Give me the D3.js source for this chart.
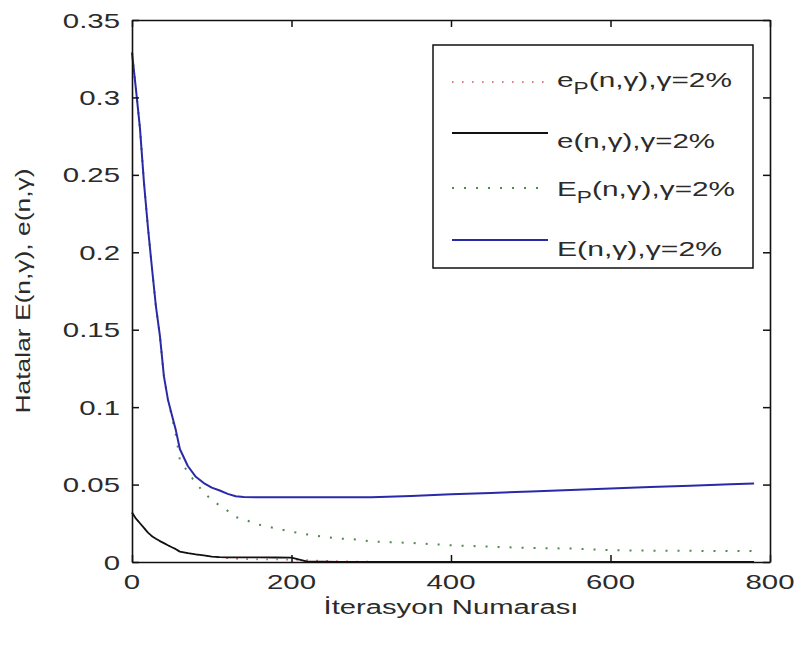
<!DOCTYPE html>
<html>
<head>
<meta charset="utf-8">
<script src="https://cdn.jsdelivr.net/npm/d3@7"></script>
<style>
  html, body { margin: 0; padding: 0; background: #fff; }
  svg { display: block; }
  text { font-family: "Liberation Sans", Arial, sans-serif; fill: #2b2b2b; }
</style>
</head>
<body>
<svg id="chart" width="798" height="651"></svg>
<script>
// Iteration numbers at which the errors were sampled
const iterations = [0, 5, 10, 15, 20, 25, 30, 35, 40, 45, 50, 55, 60, 70, 80, 90, 100, 110, 120, 130,
  140, 160, 180, 200, 220, 240, 260, 280, 300, 350, 400, 450, 500, 550, 600, 650, 700, 750, 780];

// e_P(n,γ)
const errSmallP = [0.032, 0.028, 0.025, 0.022, 0.019, 0.0167, 0.015, 0.0135, 0.0122, 0.0108, 0.0095, 0.0083,
  0.0067, 0.0057, 0.0049, 0.0043, 0.0035, 0.0028, 0.0024, 0.0021, 0.0019, 0.0017, 0.0016, 0.0015,
  0.0012, 0.0008, 0.0005, 0.0003, 0.0002, 0.0001, 0.0001, 0.0001, 0, 0, 0, 0, 0, 0, 0];
// e(n,γ)
const errSmall = [0.032, 0.028, 0.025, 0.022, 0.019, 0.0167, 0.015, 0.0135, 0.0122, 0.0108, 0.0095, 0.0083,
  0.0067, 0.0057, 0.0049, 0.0043, 0.0035, 0.0031, 0.003, 0.003, 0.003, 0.003, 0.0029, 0.0028,
  0.0003, 0.0002, 0.0001, 0, 0, 0, 0, 0, 0, 0, 0, 0, 0, 0, 0];
// E_P(n,γ)
const errBigP = [0.329, 0.305, 0.280, 0.245, 0.216, 0.190, 0.165, 0.146, 0.120, 0.105, 0.094, 0.082,
  0.066, 0.058, 0.051, 0.045, 0.040, 0.0365, 0.033, 0.029, 0.0275, 0.024, 0.0218, 0.0196,
  0.0178, 0.0163, 0.0151, 0.0146, 0.0132, 0.0123, 0.0108, 0.0099, 0.009, 0.0087, 0.0076, 0.0073, 0.0072, 0.0071, 0.0071];
// E(n,γ)
const errBig = [0.329, 0.305, 0.280, 0.245, 0.216, 0.190, 0.165, 0.146, 0.120, 0.105, 0.095, 0.085,
  0.073, 0.062, 0.055, 0.051, 0.048, 0.0462, 0.044, 0.0425, 0.042, 0.0418, 0.0418, 0.0418,
  0.0418, 0.0418, 0.0418, 0.0418, 0.0418, 0.0427, 0.0437, 0.0446, 0.0455, 0.0465, 0.0474, 0.0484, 0.0493, 0.0502, 0.0507];

const xTicks = [0, 200, 400, 600, 800];
const yTicks = [0, 0.05, 0.1, 0.15, 0.2, 0.25, 0.3, 0.35];
const xTickLabels = ["0", "200", "400", "600", "800"];
const yTickLabels = ["0", "0.05", "0.1", "0.15", "0.2", "0.25", "0.3", "0.35"];

const legendLabels = [
  { main: "e", sub: "P", rest: "(n,γ),γ=2%" },
  { main: "e", sub: "", rest: "(n,γ),γ=2%" },
  { main: "E", sub: "P", rest: "(n,γ),γ=2%" },
  { main: "E", sub: "", rest: "(n,γ),γ=2%" }
];

const svg = d3.select("#chart");
const plotLeft = 132, plotRight = 770, plotTop = 20, plotBottom = 562;

const x = d3.scaleLinear().domain([0, 800]).range([plotLeft, plotRight]);
const y = d3.scaleLinear().domain([0, 0.35]).range([plotBottom, plotTop]);

const styles = [
  { color: "#d65a5a", width: 1.6, dash: "1.6,8.4" },
  { color: "#111111", width: 1.8, dash: null },
  { color: "#4f8a4f", width: 2, dash: "2,10" },
  { color: "#2a2aa8", width: 2, dash: null }
];
const seriesList = [errSmallP, errSmall, errBigP, errBig];

const line = d3.line()
  .x((d, i) => x(iterations[i]))
  .y(d => y(d));

seriesList.forEach((vals, k) => {
  const st = styles[k];
  const p = svg.append("path")
    .datum(vals)
    .attr("d", line)
    .attr("fill", "none")
    .attr("stroke", st.color)
    .attr("stroke-width", st.width)
    .attr("stroke-linejoin", "round");
  if (st.dash) p.attr("stroke-dasharray", st.dash);
});

// Axes box with inward ticks on all four sides
const tickLen = 7;
const axisColor = "#111";
function styleAxis(g) {
  g.selectAll("path").attr("stroke", axisColor).attr("stroke-width", 1.6);
  g.selectAll("line").attr("stroke", axisColor).attr("stroke-width", 1.5);
  g.selectAll("text").remove();
}
svg.append("g").attr("transform", `translate(0,${plotBottom})`)
  .call(d3.axisBottom(x).tickValues(xTicks).tickSizeInner(-tickLen).tickSizeOuter(0).tickFormat(""))
  .call(styleAxis);
svg.append("g").attr("transform", `translate(0,${plotTop})`)
  .call(d3.axisTop(x).tickValues(xTicks).tickSizeInner(-tickLen).tickSizeOuter(0).tickFormat(""))
  .call(styleAxis);
svg.append("g").attr("transform", `translate(${plotLeft},0)`)
  .call(d3.axisLeft(y).tickValues(yTicks).tickSizeInner(-tickLen).tickSizeOuter(0).tickFormat(""))
  .call(styleAxis);
svg.append("g").attr("transform", `translate(${plotRight},0)`)
  .call(d3.axisRight(y).tickValues(yTicks).tickSizeInner(-tickLen).tickSizeOuter(0).tickFormat(""))
  .call(styleAxis);

// Tick labels (wide face, stretched horizontally)
const fontSize = 21;
const stretch = 1.4;
svg.append("g").selectAll("text").data(yTicks).join("text")
  .attr("transform", d => `translate(120,${y(d)}) scale(${stretch},1)`)
  .attr("text-anchor", "end")
  .attr("dy", "0.36em")
  .style("font-size", fontSize + "px")
  .text((d, i) => yTickLabels[i]);
svg.append("g").selectAll("text").data(xTicks).join("text")
  .attr("transform", d => `translate(${x(d)},589) scale(${stretch},1)`)
  .attr("text-anchor", "middle")
  .style("font-size", fontSize + "px")
  .text((d, i) => xTickLabels[i]);

// Text fitted to a given width by horizontal scaling
function fitted(parent, tx, ty, rot, anchor, width, build) {
  const g = parent.append("g").attr("transform", `translate(${tx},${ty})` + (rot ? ` rotate(${rot})` : ""));
  const t = g.append("text").attr("text-anchor", anchor).style("font-size", fontSize + "px");
  build(t);
  const w = t.node().getComputedTextLength();
  t.attr("transform", `scale(${width / w},1)`);
  return t;
}

fitted(svg, (plotLeft + plotRight) / 2, 614, 0, "middle", 255, t => t.text("İterasyon Numarası"));
fitted(svg, 30, (plotTop + plotBottom) / 2, -90, "middle", 245, t => t.text("Hatalar E(n,γ), e(n,γ)"));

// Legend
const legend = svg.append("g");
legend.append("rect")
  .attr("x", 433).attr("y", 45).attr("width", 320).attr("height", 223)
  .attr("fill", "#fff").attr("stroke", axisColor).attr("stroke-width", 1.5);

const sampleY = [82, 133, 188, 240];
const textY = [87, 148, 196, 256];
const textW = [175, 158, 178, 165];
legendLabels.forEach((lab, k) => {
  const st = styles[k];
  const l = legend.append("line")
    .attr("x1", 452).attr("x2", 548)
    .attr("y1", sampleY[k]).attr("y2", sampleY[k])
    .attr("stroke", st.color).attr("stroke-width", st.width);
  if (st.dash) l.attr("stroke-dasharray", st.dash);
  fitted(legend, 557, textY[k], 0, "start", textW[k], t => {
    t.append("tspan").text(lab.main);
    if (lab.sub) {
      t.append("tspan").attr("dy", 7).style("font-size", "16px").text(lab.sub);
      t.append("tspan").attr("dy", -7).text(lab.rest);
    } else {
      t.append("tspan").text(lab.rest);
    }
  });
});
</script>
</body>
</html>
